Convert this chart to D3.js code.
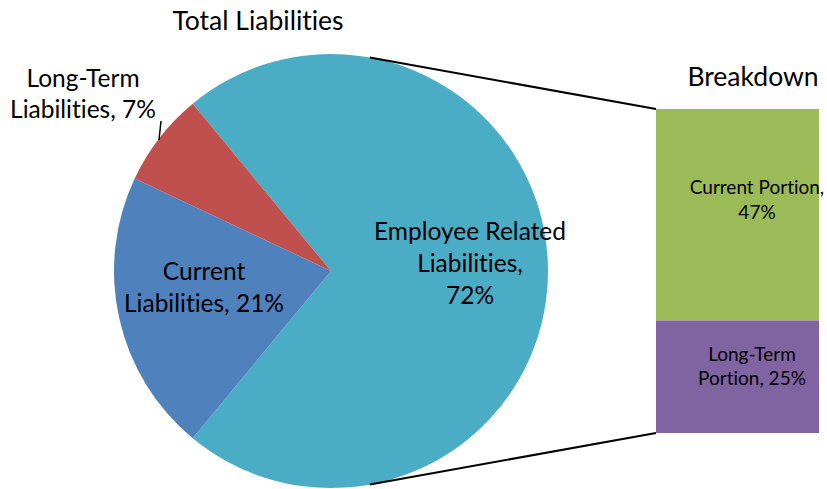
<!DOCTYPE html>
<html>
<head>
<meta charset="utf-8">
<script src="https://cdn.jsdelivr.net/npm/d3@7"></script>
<style>
  html, body { margin: 0; padding: 0; background: #fff; }
  svg text { font-family: Lato, "Open Sans", sans-serif; fill: #000; font-variant-ligatures: none; font-feature-settings: "liga" 0; }
</style>
</head>
<body>
<svg id="chart" width="827" height="489"></svg>
<script>
// Total liabilities split (pie) and the breakdown of the employee-related share (stacked bar)
const pieCategories = ["Employee Related Liabilities", "Current Liabilities", "Long-Term Liabilities"];
const pieValues = [72, 21, 7];
const pieLabelLines = [["Employee Related", "Liabilities,", "72%"], ["Current", "Liabilities, 21%"], ["Long-Term", "Liabilities, 7%"]];
const pieColors = ["#4BACC6", "#4F81BD", "#C0504D"];

const barCategories = ["Current Portion", "Long-Term Portion"];
const barValues = [47, 25];
const barLabelLines = [["Current Portion,", "47%"], ["Long-Term", "Portion, 25%"]];
const barColors = ["#9BBB59", "#8064A2"];

const svg = d3.select("#chart");
const cx = 331, cy = 271, r = 217;

// The split-out slice is centred on the right-hand side, pointing at the bar
const splitShare = pieValues[0] / d3.sum(pieValues);
const start = Math.PI / 2 - splitShare * Math.PI;
const pie = d3.pie().sort(null).value(d => d).startAngle(start).endAngle(start + 2 * Math.PI);
const arcs = pie(pieValues);
const arc = d3.arc().innerRadius(0).outerRadius(r);

const g = svg.append("g").attr("transform", `translate(${cx},${cy})`);
g.selectAll("path.slice").data(arcs).join("path")
  .attr("class", "slice")
  .attr("d", arc)
  .attr("fill", (d, i) => pieColors[i]);

// Stacked bar for the breakdown
const barX = 656, barW = 163;
const y = d3.scaleLinear().domain([0, d3.sum(barValues)]).range([433, 109]);
const stack = [];
let acc = d3.sum(barValues);
barValues.forEach((v, i) => { stack.push({ top: acc, bottom: acc - v, i }); acc -= v; });
svg.selectAll("rect.bar").data(stack).join("rect")
  .attr("class", "bar")
  .attr("x", barX).attr("width", barW)
  .attr("y", d => y(d.top))
  .attr("height", d => y(d.bottom) - y(d.top))
  .attr("fill", d => barColors[d.i]);

// Connector lines from the pie edge to the bar corners
const connAngle = 10.3 * Math.PI / 180;
const pTop = [cx + r * Math.sin(connAngle), cy - r * Math.cos(connAngle)];
const pBot = [cx + r * Math.sin(connAngle), cy + r * Math.cos(connAngle)];
svg.append("line").attr("x1", pTop[0]).attr("y1", pTop[1]).attr("x2", barX).attr("y2", y(d3.sum(barValues)))
  .attr("stroke", "#000").attr("stroke-width", 2);
svg.append("line").attr("x1", pBot[0]).attr("y1", pBot[1]).attr("x2", barX).attr("y2", y(0))
  .attr("stroke", "#000").attr("stroke-width", 2);

// Titles
svg.append("text").attr("x", 258).attr("y", 30).attr("text-anchor", "middle")
  .attr("font-size", 26.5).text("Total Liabilities");
svg.append("text").attr("x", 753).attr("y", 86).attr("text-anchor", "middle")
  .attr("font-size", 26.5).text("Breakdown");

// Pie labels
function multiline(x, yBase, lines, size, lh) {
  const t = svg.append("text").attr("text-anchor", "middle").attr("font-size", size);
  lines.forEach((s, k) => t.append("tspan").attr("x", x).attr("y", yBase + k * lh).text(s));
}
const pieLabelPos = [[470, 240], [204, 280], [83, 87]];
const pieLineHeights = [32, 32, 31];
arcs.forEach((d, i) => multiline(pieLabelPos[i][0], pieLabelPos[i][1], pieLabelLines[i], 24.5, pieLineHeights[i]));

// Leader line for the small slice
svg.append("line").attr("x1", 159).attr("y1", 140).attr("x2", 161).attr("y2", 121)
  .attr("stroke", "#000").attr("stroke-width", 1.5);

// Bar labels
const barLabelPos = [[757, 194], [752, 361]];
stack.forEach((d, i) => multiline(barLabelPos[i][0], barLabelPos[i][1], barLabelLines[i], 19, i === 0 ? 25 : 24));
</script>
</body>
</html>
